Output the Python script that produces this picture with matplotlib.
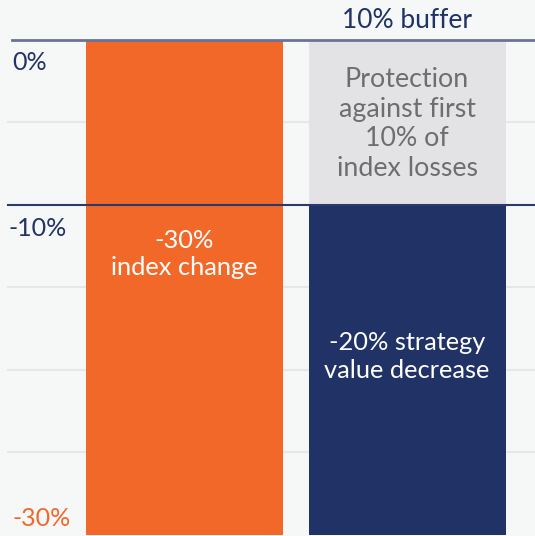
import matplotlib
matplotlib.use("Agg")
import matplotlib.pyplot as plt

plt.rcParams['font.family'] = ['Lato', 'DejaVu Sans']

# Data
categories = ["Index", "Strategy"]
bar_bottoms = [0, -10]        # top of each bar (value)
bar_values = [-30, -30]       # bottom of each bar (value)
buffer_top = 0
buffer_bottom = -10
bar_labels = ["-30%\nindex change", "-20% strategy\nvalue decrease"]
buffer_label = "Protection\nagainst first\n10% of\nindex losses"
buffer_title = "10% buffer"
grid_values = [-5, -15, -20, -25]
tick_values = [0, -10, -30]
tick_labels = ["0%", "-10%", "-30%"]

BG = "#f6f8f8"
ORANGE = "#f26829"
NAVY = "#213266"
GRAY_BAR = "#e3e3e5"
GRAY_TXT = "#6e6e70"
GRID = "#e6e8e8"

fig = plt.figure(figsize=(5.35, 5.36), dpi=100)
fig.patch.set_facecolor(BG)
ax = fig.add_axes([0, 0, 1, 1])
ax.set_facecolor(BG)

ax.set_xlim(-0.829, 1.575)
ax.set_ylim(-30.06, 2.42)
ax.axis('off')

x_left = -0.829 + 8 / 222.5
x_left0 = -0.829 + 12 / 222.5
for g in grid_values:
    ax.plot([x_left, 1.575], [g, g], color=GRID, lw=1.5, zorder=1)

width = 0.885
ax.bar(0, bar_values[0] - bar_bottoms[0], bottom=bar_bottoms[0], width=width,
       color=ORANGE, zorder=2)
ax.bar(1, buffer_bottom - buffer_top, bottom=buffer_top, width=width,
       color=GRAY_BAR, zorder=2)
ax.bar(1, bar_values[1] - bar_bottoms[1], bottom=bar_bottoms[1], width=width,
       color=NAVY, zorder=2)

ax.plot([x_left0, 1.575], [0, 0], color="#67739a", lw=2, zorder=3)
ax.plot([x_left, 1.575], [-10, -10], color="#2a3a6c", lw=1.5, zorder=3)

tick_colors = [NAVY, NAVY, ORANGE]
tick_x = [x_left0, x_left, x_left0]
tick_y = [-1.35, -11.45, -29.0]
for v, lab, c, tx, ty in zip(tick_values, tick_labels, tick_colors, tick_x, tick_y):
    ax.text(tx, ty, lab, color=c, fontsize=18, ha='left', va='center', zorder=4)

ax.text(0, -12.97, bar_labels[0], color="white", fontsize=18.3, ha='center',
        va='center', linespacing=1.26, zorder=4)
ax.text(1, -19.18, bar_labels[1], color="white", fontsize=18.3, ha='center',
        va='center', linespacing=1.26, zorder=4)
ax.text(1, -5.09, buffer_label, color=GRAY_TXT, fontsize=19.3, ha='center',
        va='center', linespacing=1.22, zorder=4)
ax.text(1, 1.15, buffer_title, color=NAVY, fontsize=19, ha='center',
        va='center', zorder=4)

fig.savefig("out.png", dpi=100, facecolor=BG)
